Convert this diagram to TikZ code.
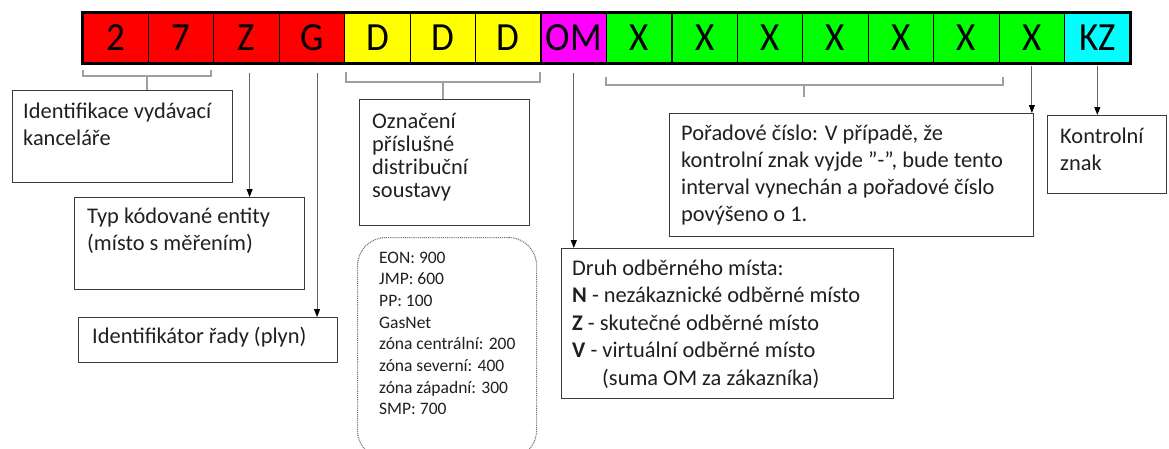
\documentclass[tikz,border=0pt]{standalone}
\usepackage{fontspec}
\setmainfont{Carlito}
\usetikzlibrary{arrows.meta,calc}
\definecolor{cred}{HTML}{FF0000}
\definecolor{cyel}{HTML}{FFFF00}
\definecolor{cmag}{HTML}{FF00FF}
\definecolor{cgrn}{HTML}{00FF00}
\definecolor{ccya}{HTML}{00FFFF}
\definecolor{boxline}{HTML}{3A3A3A}
\definecolor{txt}{HTML}{202020}
\begin{document}
\begin{tikzpicture}[x=1pt,y=-1pt,
  cell/.style={draw=black,line width=1.2pt,minimum width=65.44pt,minimum height=50pt,inner sep=0pt,
    font=\fontsize{37}{37}\selectfont,text=black},
  infobox/.style={draw=boxline,line width=1.4pt,fill=white},
  txtnode/.style={anchor=base west,inner sep=0pt,text=txt},
  brace/.style={draw=gray!75,line width=1.1pt},
  conn/.style={draw=gray!80!black,line width=0.9pt,-{Triangle[length=8pt,width=6pt,color=black,fill=black]}}
]
\useasboundingbox (0,0) rectangle (1169,448);
\fill[white] (0,0) rectangle (1169,448);

% top bar
\foreach \i/\t/\c in {1/2/cred,2/7/cred,3/Z/cred,4/G/cred,5/D/cyel,6/D/cyel,7/D/cyel,8/OM/cmag,
  9/X/cgrn,10/X/cgrn,11/X/cgrn,12/X/cgrn,13/X/cgrn,14/X/cgrn,15/X/cgrn,16/KZ/ccya}
  \node[cell,fill=\c] (c\i) at ({83+65.44*(\i-0.5)},38) {\scalebox{1}[1.08]{\t}};
\draw[line width=2.4pt] (c1.north west) rectangle (c16.south east);

% boxes
\node[infobox,anchor=north west,minimum width=220pt,minimum height=92pt] (b1) at (12,90) {};
\node[infobox,anchor=north west,minimum width=230pt,minimum height=92pt] (b2) at (74,197) {};
\node[infobox,anchor=north west,minimum width=259pt,minimum height=45pt] (b3) at (78,317) {};
\node[infobox,anchor=north west,minimum width=170pt,minimum height=126pt] (b4) at (359,99) {};
\node[draw=gray!90!black,dash pattern=on 1pt off 0.9pt,line width=1.1pt,rounded corners=28pt,anchor=north west,minimum width=179pt,minimum height=221pt] (b5) at (357,237) {};
\node[infobox,anchor=north west,minimum width=332pt,minimum height=150pt] (b6) at (561,248) {};
\node[infobox,anchor=north west,minimum width=364pt,minimum height=123pt] (b7) at (669,113) {};
\node[infobox,anchor=north west,minimum width=119pt,minimum height=78pt] (b8) at (1047,115) {};

% texts
\node[txtnode,font=\fontsize{22.4}{27}\selectfont] (t1) at (23,118)
  {\parbox[t]{205pt}{Identifikace vydávací\\kanceláře}};
\node[txtnode,font=\fontsize{22.4}{27.5}\selectfont] (t2) at (87,223)
  {\parbox[t]{215pt}{Typ kódované entity\\(místo s měřením)}};
\node[txtnode,font=\fontsize{22.4}{27}\selectfont] (t3) at (92,343)
  {Identifikátor řady (plyn)};
\node[txtnode,font=\fontsize{22.4}{23}\selectfont] (t4) at (372,128)
  {\parbox[t]{150pt}{Označení\\příslušné\\distribuční\\soustavy}};
\node[txtnode,font=\fontsize{17.5}{21.7}\selectfont] (t5) at (379,263)
  {\parbox[t]{155pt}{EON: 900\\JMP: 600\\PP: 100\\GasNet\\zóna centrální: 200\\zóna severní: 400\\zóna západní: 300\\SMP: 700}};
\node[txtnode,font=\fontsize{22.4}{27.5}\selectfont] (t6) at (572,275)
  {\parbox[t]{315pt}{Druh odběrného místa:\\\textbf{N} - nezákaznické odběrné místo\\\textbf{Z} - skutečné odběrné místo\\\textbf{V} - virtuální odběrné místo\\\hspace*{30pt}(suma OM za zákazníka)}};
\node[txtnode,font=\fontsize{22.4}{27}\selectfont] (t7) at (681,140)
  {\parbox[t]{345pt}{Pořadové číslo: V případě, že\\kontrolní znak vyjde \symbol{34}-\symbol{34}, bude tento\\interval vynechán a pořadové číslo\\povýšeno o 1.}};
\node[txtnode,font=\fontsize{22.4}{27}\selectfont] (t8) at (1060,143)
  {\parbox[t]{100pt}{Kontrolní\\znak}};

% braces
\coordinate (k1) at (147,76);
\coordinate (k2) at (443,82);
\coordinate (k3) at (804,85);
\coordinate (xend) at (804,97);
\draw[brace] (83,70) -- (83,76) -- (211,76) -- (211,70);
\draw[brace] (k1) -- (k1 |- b1.north);
\draw[brace] (346,72) -- (346,82) -- (540,82) -- (540,72);
\draw[brace] (k2) -- (k2 |- b4.north);
\draw[brace] (606,77) -- (606,85) -- (1003,85) -- (1003,77);
\draw[brace] (k3) -- (xend);

% arrows
\draw[conn] ([shift={(3,9)}]c3.south) -- ([xshift=3pt]c3.south |- b2.north);
\draw[conn] ([shift={(5,9)}]c4.south) -- ([xshift=5pt]c4.south |- b3.north);
\draw[conn] ([shift={(0,9)}]c8.south) -- (c8.south |- b6.north);
\draw[conn] ([shift={(0,2)}]c15.south) -- (c15.south |- b7.north);
\draw[conn] ([shift={(0,2)}]c16.south) -- (c16.south |- b8.north);
\end{tikzpicture}
\end{document}
